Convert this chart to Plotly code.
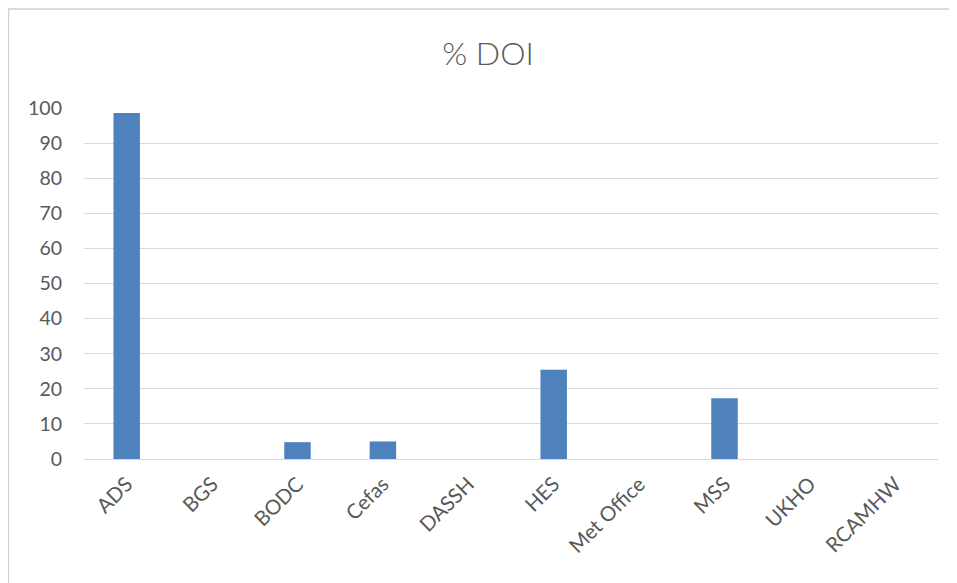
import plotly.graph_objects as go

categories = ["ADS", "BGS", "BODC", "Cefas", "DASSH", "HES", "Met Office", "MSS", "UKHO", "RCAMHW"]
doi_pct = [98.6, 0, 4.8, 5.0, 0, 25.4, 0, 17.3, 0, 0]
y_ticks = [0, 10, 20, 30, 40, 50, 60, 70, 80, 90, 100]

fig = go.Figure()
fig.add_trace(go.Bar(
    x=categories, y=doi_pct,
    marker=dict(color="#4f81bd", line=dict(width=0)),
    width=0.31,
))

fig.update_layout(
    width=957, height=583,
    paper_bgcolor="white", plot_bgcolor="white",
    margin=dict(l=76, r=27, t=100, b=132),
    showlegend=False,
    title=dict(text="% DOI", x=0.5016, xanchor="center", y=0.921, yanchor="middle",
               font=dict(family="Lato", size=32, color="#595959", weight=300)),
    font=dict(family="Lato", size=16, color="#595959"),
)
fig.update_yaxes(
    range=[0, 100], tickvals=y_ticks, showgrid=True, gridcolor="#d9d9d9", gridwidth=1.3,
    zeroline=False, showline=False, ticks="", ticklabelstandoff=21,
    tickfont=dict(family="Lato", size=19.5, color="#595959"), fixedrange=True,
)
fig.update_xaxes(
    showline=True, linecolor="#d9d9d9", linewidth=1.3, ticks="", tickangle=-45,
    tickfont=dict(family="Lato", size=20.5, color="#595959"), ticklabelstandoff=4,
)
fig.add_shape(type="rect", xref="paper", yref="paper",
              x0=-0.0885, x1=1.05, y0=-0.5, y1=1.282,
              line=dict(color="#d0d0d0", width=1.5), fillcolor="rgba(0,0,0,0)", layer="above")

fig.write_html("out.html")
